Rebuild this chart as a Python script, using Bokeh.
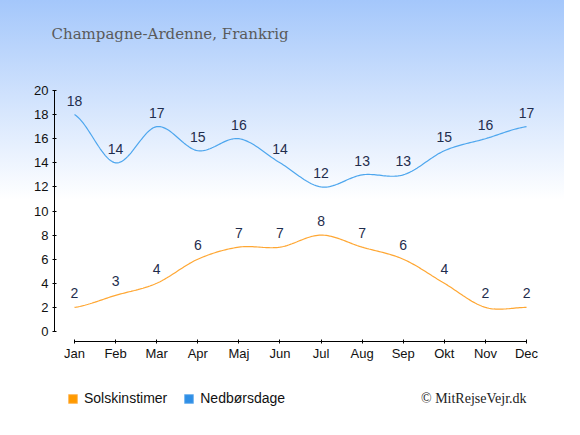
import numpy as np
from bokeh.plotting import figure
from bokeh.layouts import column
from bokeh.models import (ColumnDataSource, FixedTicker, Legend, LegendItem, Label, Range1d)
from bokeh.core.properties import value
from bokeh.embed import file_html
from bokeh.resources import INLINE

months = ["Jan", "Feb", "Mar", "Apr", "Maj", "Jun", "Jul", "Aug", "Sep", "Okt", "Nov", "Dec"]
sun_hours = [2, 3, 4, 6, 7, 7, 8, 7, 6, 4, 2, 2]
rain_days = [18, 14, 17, 15, 16, 14, 12, 13, 13, 15, 16, 17]
y_ticks = [0, 2, 4, 6, 8, 10, 12, 14, 16, 18, 20]
title_text = "Champagne-Ardenne, Frankrig"
sun_label = "Solskinstimer"
rain_label = "Nedbørsdage"
credit = "© MitRejseVejr.dk"

SUN_COLOR = "#ffa733"
RAIN_COLOR = "#4da6ee"
LABEL_COLOR = "#1f2d4d"
W = 564


def smooth(vals, n=24):
    """Catmull-Rom curve through the given points (for drawing the line only)."""
    v = np.asarray(vals, dtype=float)
    p = np.concatenate([[v[0]], v, [v[-1]]])
    xs, ys = [], []
    for i in range(len(v) - 1):
        p0, p1, p2, p3 = p[i], p[i + 1], p[i + 2], p[i + 3]
        t = np.linspace(0, 1, n, endpoint=False)
        y = 0.5 * ((2 * p1) + (-p0 + p2) * t + (2 * p0 - 5 * p1 + 4 * p2 - p3) * t ** 2
                   + (-p0 + 3 * p1 - 3 * p2 + p3) * t ** 3)
        xs.extend(i + t)
        ys.extend(y)
    xs.append(len(v) - 1)
    ys.append(v[-1])
    return xs, ys


xr = Range1d(-0.487, 11.34)
p = figure(width=W, height=372, output_backend="svg", toolbar_location=None,
           x_range=xr, y_range=Range1d(-0.83, 22.49),
           min_border_left=54, min_border_right=24, min_border_top=60, min_border_bottom=31)
p.styles = {"background": "linear-gradient(to bottom, #a4c7fb 0px, #ffffff 200px, #ffffff 100%)"}
p.background_fill_color = None
p.border_fill_color = None
p.outline_line_color = None
p.grid.visible = False

p.title.text = title_text
p.title.text_font = "DejaVu Serif"
p.title.text_font_size = "15px"
p.title.text_font_style = "normal"
p.title.text_color = "#5a5a5a"
p.title.offset = -3
p.title.standoff = 35

x_idx = list(range(len(months)))

sx, sy = smooth(sun_hours)
rx, ry = smooth(rain_days)
p.line(sx, sy, line_color=SUN_COLOR, line_width=1.2)
p.line(rx, ry, line_color=RAIN_COLOR, line_width=1.2)

src = ColumnDataSource(dict(x=x_idx, sun=sun_hours, rain=rain_days,
                            sun_t=[str(v) for v in sun_hours],
                            rain_t=[str(v) for v in rain_days]))
for col, txt in (("sun", "sun_t"), ("rain", "rain_t")):
    p.text(x="x", y=col, text=txt, source=src, text_align="center", text_baseline="bottom",
           y_offset=-9, text_font=value("Liberation Sans"), text_font_size="14px",
           text_color=LABEL_COLOR)

# axes
xa = p.xaxis[0]
xa.ticker = FixedTicker(ticks=x_idx)
xa.major_label_overrides = {i: m for i, m in enumerate(months)}
xa.bounds = (0, 11)
xa.minor_tick_line_color = None
xa.major_tick_in = 2
xa.major_tick_out = 2
xa.axis_line_color = "#000000"
xa.major_tick_line_color = "#000000"
xa.major_label_text_font = "Liberation Sans"
xa.major_label_text_font_size = "13px"
xa.major_label_text_color = "#111111"
xa.major_label_standoff = 2

ya = p.yaxis[0]
ya.ticker = FixedTicker(ticks=y_ticks)
ya.bounds = (0, 20)
ya.minor_tick_line_color = None
ya.major_tick_in = 2
ya.major_tick_out = 2
ya.axis_line_color = "#000000"
ya.major_tick_line_color = "#000000"
ya.major_label_text_font = "Liberation Sans"
ya.major_label_text_font_size = "13px"
ya.major_label_text_color = "#111111"
ya.major_label_standoff = 4

# bottom strip with legend and credit (frame is aligned with the main plot's frame)
H2 = 47
p2 = figure(width=W, height=H2, output_backend="svg", toolbar_location=None,
            x_range=xr, y_range=Range1d(0, H2),
            min_border_left=54, min_border_right=24, min_border_top=0, min_border_bottom=0,
            x_axis_type=None, y_axis_type=None)
p2.background_fill_color = "#ffffff"
p2.border_fill_color = "#ffffff"
p2.outline_line_color = None
p2.grid.visible = False

nan_box = dict(left=[np.nan], right=[np.nan], top=[np.nan], bottom=[np.nan])
r_sun = p2.quad(source=ColumnDataSource(nan_box), left="left", right="right", top="top",
                bottom="bottom", fill_color="#ff9a00", line_color="#ffbd66")
r_rain = p2.quad(source=ColumnDataSource(dict(nan_box)), left="left", right="right", top="top",
                 bottom="bottom", fill_color="#2f8fe6", line_color="#7ab8f0")
legend = Legend(items=[LegendItem(label=sun_label, renderers=[r_sun]),
                       LegendItem(label=rain_label, renderers=[r_rain])],
                orientation="horizontal", location=(13, 13),
                background_fill_alpha=0, border_line_color=None,
                label_text_font="Liberation Sans", label_text_font_size="14px",
                label_text_color="#111111", glyph_width=11, glyph_height=11,
                spacing=16, label_standoff=6, padding=4, margin=0)
p2.add_layout(legend, "center")

p2.add_layout(Label(x=11, y=21, text=credit, text_align="right", text_baseline="middle",
                    text_font="Liberation Serif", text_font_size="14px", text_color="#222222"))

layout = column(p, p2, spacing=0)
open("out.html", "w").write(file_html(layout, INLINE))
